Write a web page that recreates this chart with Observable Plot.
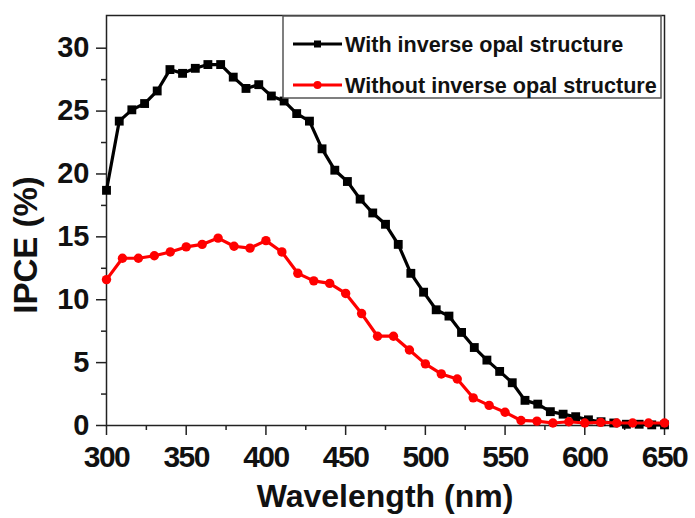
<!DOCTYPE html>
<html><head><meta charset="utf-8">
<script src="https://cdn.jsdelivr.net/npm/d3@7"></script>
<script src="https://cdn.jsdelivr.net/npm/@observablehq/plot@0.6"></script>
<style>
body{margin:0;background:#fff;}
#chart svg{display:block;}
</style>
</head><body><div id="chart"></div>
<script>
// Series: with inverse opal structure (black squares)
const wavelengthWith = [300, 308, 315.9, 323.9, 331.8, 339.8, 347.7, 355.7, 363.6, 371.6, 379.5, 387.5, 395.5, 403.4, 411.4, 419.3, 427.3, 435.2, 443.2, 451.1, 459.1, 467, 475, 483, 490.9, 498.9, 506.8, 514.8, 522.7, 530.7, 538.6, 546.6, 554.5, 562.5, 570.5, 578.4, 586.4, 594.3, 602.3, 610.2, 618.2, 626.1, 634.1, 642, 650];
const ipceWith = [18.7, 24.2, 25.1, 25.6, 26.6, 28.3, 28.0, 28.4, 28.7, 28.7, 27.7, 26.8, 27.1, 26.2, 25.8, 24.8, 24.2, 22.0, 20.3, 19.4, 18.0, 16.9, 16.0, 14.4, 12.1, 10.6, 9.2, 8.7, 7.4, 6.2, 5.2, 4.3, 3.4, 2.0, 1.7, 1.1, 0.9, 0.7, 0.45, 0.3, 0.2, 0.1, 0.1, 0.05, 0.05];
// Series: without inverse opal structure (red circles)
const wavelengthWithout = [300, 310, 320, 330, 340, 350, 360, 370, 380, 390, 400, 410, 420, 430, 440, 450, 460, 470, 480, 490, 500, 510, 520, 530, 540, 550, 560, 570, 580, 590, 600, 610, 620, 630, 640, 650];
const ipceWithout = [11.6, 13.3, 13.3, 13.5, 13.8, 14.2, 14.4, 14.9, 14.25, 14.1, 14.7, 13.8, 12.1, 11.5, 11.3, 10.5, 8.9, 7.1, 7.1, 6.0, 4.9, 4.1, 3.7, 2.2, 1.6, 1.05, 0.4, 0.35, 0.2, 0.3, 0.2, 0.25, 0.2, 0.2, 0.2, 0.2];

const seriesNames = ["With inverse opal structure", "Without inverse opal structure"];
const seriesColors = ["#000000", "#ff0000"];
const xMajorTicks = [300, 350, 400, 450, 500, 550, 600, 650];
const xMinorTicks = [325, 375, 425, 475, 525, 575, 625];
const yMajorTicks = [0, 5, 10, 15, 20, 25, 30];
const yMinorTicks = [2.5, 7.5, 12.5, 17.5, 22.5, 27.5];
const xTitle = "Wavelength (nm)";
const yTitle = "IPCE (%)";

const withData = wavelengthWith.map((w, i) => ({wavelength: w, ipce: ipceWith[i]}));
const withoutData = wavelengthWithout.map((w, i) => ({wavelength: w, ipce: ipceWithout[i]}));

const W = 695, H = 518, mL = 106, mR = 31, mT = 15, mB = 93;
const font = "'Liberation Sans', Arial, Helvetica, sans-serif";
const axisColor = "#222";

const chart = Plot.plot({
  width: W, height: H,
  marginLeft: mL, marginRight: mR, marginTop: mT, marginBottom: mB,
  x: {domain: [300, 650]},
  y: {domain: [0, 32.6]},
  style: {fontFamily: font, background: "#fff", overflow: "visible"},
  marks: [
    Plot.axisX({ticks: xMinorTicks, tickSize: 5, tickFormat: () => "", label: null, stroke: axisColor, strokeWidth: 1.5}),
    Plot.axisY({ticks: yMinorTicks, tickSize: 5, tickFormat: () => "", label: null, stroke: axisColor, strokeWidth: 1.5}),
    Plot.axisX({ticks: xMajorTicks, tickSize: 10, tickPadding: 10, fontSize: 30, fontWeight: "bold", label: null, stroke: axisColor, strokeWidth: 1.5, fill: "#111", className: "xticks"}),
    Plot.axisY({ticks: yMajorTicks, tickSize: 10, tickPadding: 7, fontSize: 29, fontWeight: "bold", label: null, stroke: axisColor, strokeWidth: 1.5, fill: "#111"}),
    Plot.frame({stroke: axisColor, strokeWidth: 1.5}),
    Plot.line(withData, {x: "wavelength", y: "ipce", stroke: seriesColors[0], strokeWidth: 3.2}),
    Plot.dot(withData, {x: "wavelength", y: "ipce", symbol: "square", fill: seriesColors[0], r: 5}),
    Plot.line(withoutData, {x: "wavelength", y: "ipce", stroke: seriesColors[1], strokeWidth: 3.2}),
    Plot.dot(withoutData, {x: "wavelength", y: "ipce", symbol: "circle", fill: seriesColors[1], r: 4.7})
  ]
});
document.getElementById("chart").appendChild(chart);

const svg = d3.select(chart);
svg.selectAll(".xticks text").attr("letter-spacing", "-1.5px");

// Axis titles
const xr = chart.scale("x").range;
svg.append("text").attr("x", (xr[0] + xr[1]) / 2).attr("y", 507)
  .attr("text-anchor", "middle").attr("font-family", font).attr("font-weight", "bold")
  .attr("font-size", 32).attr("fill", "#111").text(xTitle);
svg.append("text").attr("transform", "translate(37,245) rotate(-90)")
  .attr("text-anchor", "middle").attr("font-family", font).attr("font-weight", "bold")
  .attr("font-size", 33).attr("fill", "#111").text(yTitle);

// Legend
const lg = svg.append("g");
lg.append("rect").attr("x", 283).attr("y", 16).attr("width", 378).attr("height", 82)
  .attr("fill", "#fff").attr("stroke", "#555").attr("stroke-width", 1.5);
const rows = [44, 85];
seriesNames.forEach((name, i) => {
  const y = rows[i];
  lg.append("line").attr("x1", 293).attr("x2", 342).attr("y1", y).attr("y2", y)
    .attr("stroke", seriesColors[i]).attr("stroke-width", 3.2);
  if (i === 0) {
    lg.append("rect").attr("x", 317.5 - 3.5).attr("y", y - 3.5).attr("width", 7).attr("height", 7).attr("fill", seriesColors[i]);
  } else {
    lg.append("circle").attr("cx", 317.5).attr("cy", y).attr("r", 4).attr("fill", seriesColors[i]);
  }
  lg.append("text").attr("x", 345).attr("y", y).attr("dy", "0.36em")
    .attr("text-anchor", "start")
    .attr("font-family", font).attr("font-weight", "bold").attr("font-size", 21.6)
    .attr("fill", "#111").text(name);
});
</script>
</body></html>
